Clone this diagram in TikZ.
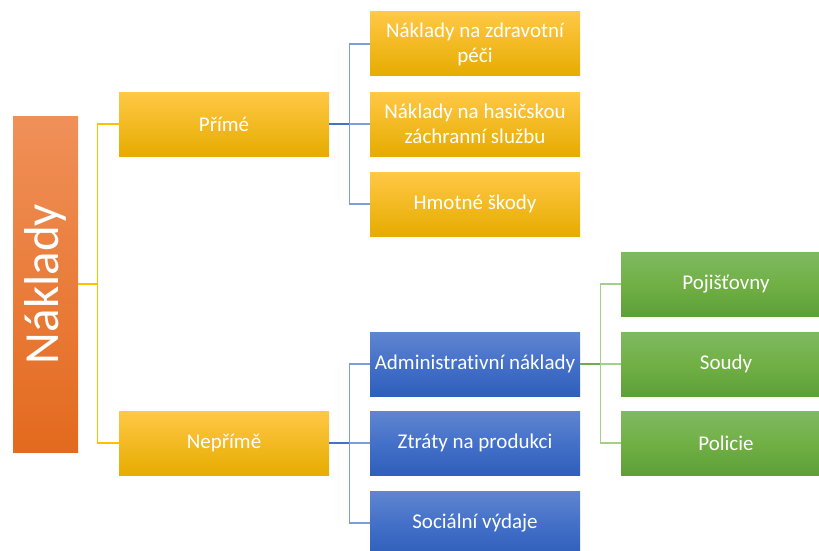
\documentclass[tikz,border=0pt]{standalone}
\usepackage{fontspec}
\setmainfont[Ligatures=NoCommon]{Carlito}
\begin{document}
\begin{tikzpicture}[x=1pt,y=-1pt,
  box/.style={minimum width=210pt,minimum height=64pt,inner sep=0pt,align=center,text=white,font=\fontsize{21}{25}\selectfont},
  goldbox/.style={box,top color=gold1,middle color=gold2,bottom color=gold3,shading angle=0},
  bluebox/.style={box,top color=blue1,bottom color=blue3,middle color=blue2},
  greenbox/.style={box,top color=green1,bottom color=green3,middle color=green2},
  goldline/.style={draw=lgold,line width=1.3pt},
  bluedark/.style={draw=lblue,line width=1.3pt},
  bluelight/.style={draw=lblue2,line width=1.3pt},
  greendark/.style={draw=lgreen,line width=1.3pt},
  greenlight/.style={draw=lgreen2,line width=1.3pt}]
\definecolor{gold1}{HTML}{FFC846}
\definecolor{gold2}{HTML}{FFC000}
\definecolor{gold3}{HTML}{E6AC00}
\definecolor{or1}{HTML}{F09059}
\definecolor{or2}{HTML}{F27A2A}
\definecolor{or3}{HTML}{E36A1E}
\definecolor{blue1}{HTML}{5F86D0}
\definecolor{blue2}{HTML}{4470C8}
\definecolor{blue3}{HTML}{2F5FBB}
\definecolor{green1}{HTML}{80B964}
\definecolor{green2}{HTML}{70B044}
\definecolor{green3}{HTML}{5E9F38}
\definecolor{lgold}{HTML}{FFC000}
\definecolor{lblue}{HTML}{4472C4}
\definecolor{lblue2}{HTML}{7C9DD8}
\definecolor{lgreen}{HTML}{70AD47}
\definecolor{lgreen2}{HTML}{A3CF88}
\path[use as bounding box] (0,0) rectangle (819,551);
\clip (0,0) rectangle (819,551);
\node[minimum width=65pt,minimum height=336pt,inner sep=0pt,top color=or1,middle color=or2,bottom color=or3] (root) at (45.5,284) {};
\node[text=white,rotate=90,font=\fontsize{49}{55}\selectfont] (roottext) at (root.center) {Náklady};
\node[goldbox] (prime) at (224,124) {Přímé};
\node[goldbox] (neprime) at (224,443) {Nepřímě};
\node[goldbox] (a1) at (475,44) {Náklady na zdravotní\\péči};
\node[goldbox] (a2) at (475,124) {Náklady na hasičskou\\záchranní službu};
\node[goldbox] (a3) at (475,204) {Hmotné škody};
\node[bluebox] (b1) at (475,364) {Administrativní náklady};
\node[bluebox] (b2) at (475,443) {Ztráty na produkci};
\node[bluebox] (b3) at (475,523) {Sociální výdaje};
\node[greenbox] (c1) at (726,284) {Pojišťovny};
\node[greenbox] (c2) at (726,364) {Soudy};
\node[greenbox] (c3) at (726,443) {Policie};
\coordinate (j0) at ([xshift=19pt]root.east);
\coordinate (j1) at ([xshift=20pt]prime.east);
\coordinate (j2) at ([xshift=20pt]neprime.east);
\coordinate (j3) at ([xshift=20pt]b1.east);
\draw[goldline] (root.east) -- (j0) |- (prime.west);
\draw[goldline] (j0) |- (neprime.west);
\draw[bluelight] (j1) |- (a1.west);
\draw[bluelight] (j1) |- (a3.west);
\draw[bluelight] (j1) -- (a2.west);
\draw[bluedark] (prime.east) -- (j1);
\draw[bluelight] (j2) |- (b1.west);
\draw[bluelight] (j2) |- (b3.west);
\draw[bluelight] (j2) -- (b2.west);
\draw[bluedark] (neprime.east) -- (j2);
\draw[greenlight] (j3) |- (c1.west);
\draw[greenlight] (j3) |- (c3.west);
\draw[greenlight] (j3) -- (c2.west);
\draw[greendark] (b1.east) -- (j3);
\end{tikzpicture}
\end{document}
